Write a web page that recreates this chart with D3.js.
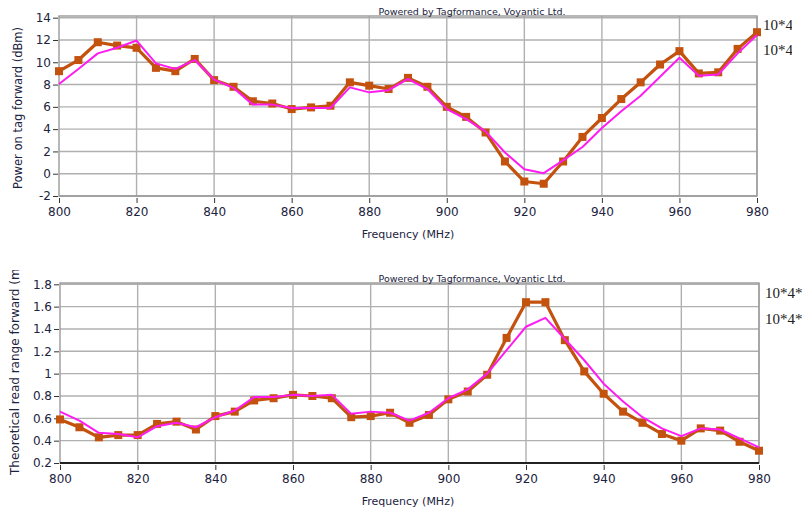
<!DOCTYPE html>
<html>
<head>
<meta charset="utf-8">
<script src="https://cdn.jsdelivr.net/npm/d3@7"></script>
<style>
  body { margin: 0; background: #fff; }
  svg { display: block; }
</style>
</head>
<body>
<div id="chart"></div>
<script>
// frequency steps (MHz)
var freq = [800,805,810,815,820,825,830,835,840,845,850,855,860,865,870,875,880,885,890,
            895,900,905,910,915,920,925,930,935,940,945,950,955,960,965,970,975,980];

// power on tag forward (dBm)
var powerMeasured = [9.2,10.2,11.8,11.5,11.3,9.5,9.2,10.3,8.4,7.8,6.5,6.3,5.8,5.95,6.1,8.2,7.9,7.6,8.6,
                     7.8,6.0,5.1,3.7,1.1,-0.7,-0.9,1.1,3.3,5.0,6.7,8.2,9.8,11.0,9.0,9.1,11.2,12.7];
var powerTheory = [8.05,9.4,10.8,11.3,11.95,9.9,9.4,10.2,8.45,7.7,6.2,6.2,5.9,5.9,5.9,7.75,7.3,7.5,8.5,
                   7.6,5.8,4.9,3.8,1.9,0.4,0.05,1.2,2.4,4.1,5.6,7.0,8.7,10.4,8.8,8.9,10.8,12.45];

// theoretical read range forward (m)
var rangeMeasured = [0.59,0.52,0.43,0.45,0.45,0.55,0.57,0.50,0.62,0.66,0.76,0.78,0.81,0.80,0.78,0.61,0.62,0.65,0.56,
                     0.63,0.77,0.84,0.99,1.32,1.64,1.64,1.30,1.02,0.82,0.66,0.56,0.46,0.40,0.51,0.49,0.39,0.31];
var rangeTheory = [0.66,0.58,0.47,0.46,0.43,0.53,0.56,0.52,0.61,0.67,0.79,0.79,0.81,0.80,0.81,0.64,0.66,0.65,0.58,
                   0.65,0.78,0.86,1.0,1.21,1.42,1.50,1.31,1.12,0.91,0.75,0.61,0.51,0.44,0.51,0.50,0.42,0.34];

var xTicks = [800,820,840,860,880,900,920,940,960,980];
var powerTicks = [-2,0,2,4,6,8,10,12,14];
var rangeTicks = [0.2,0.4,0.6,0.8,1,1.2,1.4,1.6,1.8];

var W = 805, H = 512;
var svg = d3.select("#chart").append("svg")
  .attr("width", W).attr("height", H);

var defs = svg.append("defs");
defs.append("clipPath").attr("id", "clipTop")
  .append("rect").attr("x", 0).attr("y", 0).attr("width", 792).attr("height", 260);
defs.append("clipPath").attr("id", "clipBot")
  .append("rect").attr("x", 0).attr("y", 270).attr("width", W).attr("height", 242);

var orange = "#c4520f", magenta = "#ff1cf0", grid = "#b0b0b0", ink = "#1c2340";

function drawChart(opt) {
  var x = d3.scaleLinear().domain([800, 980]).range([opt.left, opt.right]);
  var y = d3.scaleLinear().domain(opt.domain).range([opt.bottom, opt.top]);
  var g = svg.append("g");

  // grid
  g.selectAll(".vg").data(xTicks.slice(1)).enter().append("line")
    .attr("x1", function(d) { return x(d); }).attr("x2", function(d) { return x(d); })
    .attr("y1", opt.frameTop).attr("y2", opt.bottom)
    .attr("stroke", grid).attr("stroke-width", 1.4);
  g.selectAll(".hg").data(opt.ticks.slice(1)).enter().append("line")
    .attr("x1", opt.left).attr("x2", opt.right)
    .attr("y1", function(d) { return y(d); }).attr("y2", function(d) { return y(d); })
    .attr("stroke", grid).attr("stroke-width", 1.4);
  // frame
  g.append("rect").attr("x", opt.left).attr("y", opt.frameTop)
    .attr("width", opt.right - opt.left).attr("height", opt.bottom - opt.frameTop)
    .attr("fill", "none").attr("stroke", "#9a9a9a").attr("stroke-width", 1.4);

  // axes
  var ya = g.append("g").attr("transform", "translate(" + (opt.left - 1) + ",0)")
    .call(d3.axisLeft(y).tickValues(opt.ticks).tickSize(5).tickPadding(2)
      .tickFormat(function(d) { return String(d); }));
  var xa = g.append("g").attr("transform", "translate(0," + (opt.bottom + 2) + ")")
    .call(d3.axisBottom(x).tickValues(xTicks).tickSize(5).tickPadding(4));
  [ya, xa].forEach(function(a) {
    a.select(".domain").remove();
    a.selectAll("line").attr("stroke", "#333");
    a.selectAll("text").attr("fill", ink)
      .style("font-family", "DejaVu Sans").style("font-size", "12px");
  });
  g.append("line").attr("x1", opt.left).attr("x2", opt.right)
    .attr("y1", opt.bottom).attr("y2", opt.bottom)
    .attr("stroke", opt.axisColor).attr("stroke-width", opt.axisWidth);

  // lines
  var line = d3.line()
    .x(function(d, i) { return x(freq[i]); })
    .y(function(d) { return y(d); });
  g.append("path").datum(opt.measured).attr("d", line)
    .attr("fill", "none").attr("stroke", orange).attr("stroke-width", 3.2)
    .attr("stroke-linejoin", "round");
  g.selectAll(".mk").data(opt.measured).enter().append("rect")
    .attr("x", function(d, i) { return x(freq[i]) - 4; })
    .attr("y", function(d) { return y(d) - 4; })
    .attr("width", 8).attr("height", 8).attr("fill", orange);
  g.append("path").datum(opt.theory).attr("d", line)
    .attr("fill", "none").attr("stroke", magenta).attr("stroke-width", 2)
    .attr("stroke-linejoin", "round");

  // texts
  g.append("text").attr("x", 472).attr("y", opt.frameTop - 1)
    .attr("text-anchor", "middle").attr("fill", ink)
    .style("font-family", "DejaVu Sans").style("font-size", "9.5px")
    .text("Powered by Tagformance, Voyantic Ltd.");
  g.append("text").attr("x", 408).attr("y", opt.bottom + 42)
    .attr("text-anchor", "middle").attr("fill", ink)
    .style("font-family", "DejaVu Sans").style("font-size", "11px")
    .text("Frequency (MHz)");
  var tg = g.append("g").attr("clip-path", opt.titleClip);
  tg.append("text")
    .attr("transform", "translate(" + opt.titleX + "," + opt.titleY + ")rotate(-90)")
    .attr("text-anchor", opt.titleAnchor).attr("fill", ink)
    .style("font-family", "DejaVu Sans").style("font-size", opt.titleSize)
    .text(opt.title);

  var rg = g.append("g").attr("clip-path", opt.rightClip);
  opt.rightLabels.forEach(function(r) {
    rg.append("text").attr("x", opt.right + 6).attr("y", r[0])
      .attr("fill", "#222")
      .style("font-family", "Liberation Serif").style("font-size", "15px")
      .text(r[1]);
  });
}

drawChart({
  left: 59, right: 757, top: 17.7, frameTop: 16, bottom: 196,
  domain: [-2, 14], ticks: powerTicks,
  measured: powerMeasured, theory: powerTheory,
  axisColor: "#9a9a9a", axisWidth: 1.4,
  title: "Power on tag forward (dBm)", titleX: 22, titleY: 108, titleAnchor: "middle",
  titleSize: "11.5px", titleClip: null,
  rightClip: "url(#clipTop)",
  rightLabels: [[30, "10*4*"], [55, "10*4*"]]
});

drawChart({
  left: 60, right: 759, top: 284.3, frameTop: 283, bottom: 463,
  domain: [0.2, 1.8], ticks: rangeTicks,
  measured: rangeMeasured, theory: rangeTheory,
  axisColor: "#222", axisWidth: 2,
  title: "Theoretical read range forward (m)", titleX: 19, titleY: 475, titleAnchor: "start",
  titleSize: "12px", titleClip: "url(#clipBot)",
  rightClip: null,
  rightLabels: [[298, "10*4*"], [324, "10*4*"]]
});
</script>
</body>
</html>
